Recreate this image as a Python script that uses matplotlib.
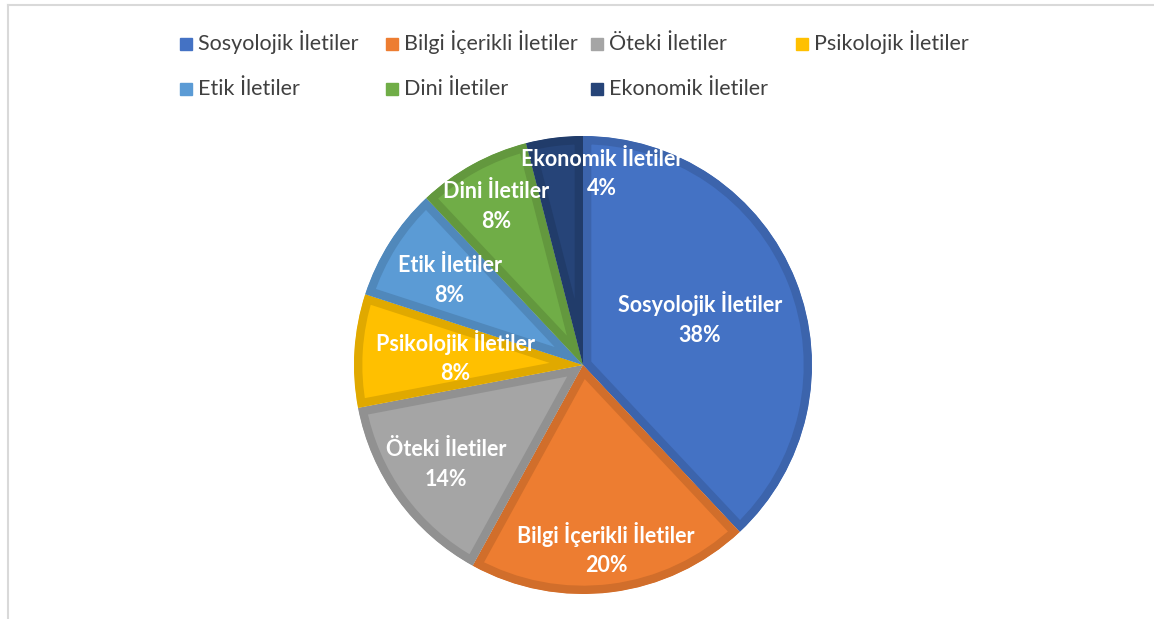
import matplotlib.pyplot as plt
from matplotlib.lines import Line2D
from matplotlib.patches import Rectangle
from matplotlib.colors import to_rgb
import numpy as np

categories = ["Sosyolojik İletiler", "Bilgi İçerikli İletiler", "Öteki İletiler",
              "Psikolojik İletiler", "Etik İletiler", "Dini İletiler", "Ekonomik İletiler"]
shares = [38, 20, 14, 8, 8, 8, 4]
colors = ["#4472C4", "#ED7D31", "#A5A5A5", "#FFC000", "#5B9BD5", "#70AD47", "#264478"]

# where each data label sits: distance along the bisector (fraction of radius),
# plus a sideways nudge for the crowded small slice
label_dist = [0.55, 0.81, 0.74, 0.56, 0.69, 0.79, 0.84]
label_dx = [0, 0, 0, 0, 0, 0, 0.19]

plt.rcParams["font.family"] = ["Lato", "DejaVu Sans"]


def darker(c, f=0.88):
    r, g, b = to_rgb(c)
    return (r * f, g * f, b * f)


fig = plt.figure(figsize=(11.54, 6.19), dpi=100)

# chart frame (top and left edges visible)
fig.add_artist(Line2D([8 / 1154, 1], [1 - 5 / 619, 1 - 5 / 619], color="#D9D9D9", lw=1.5))
fig.add_artist(Line2D([8 / 1154, 8 / 1154], [0, 1 - 5 / 619], color="#D9D9D9", lw=1.5))

ax = fig.add_axes([354 / 1154, 25 / 619, 458 / 1154, 458 / 619])
wedges, _ = ax.pie(shares, colors=colors, startangle=90, counterclock=False,
                   radius=1.0, wedgeprops={"linewidth": 0})
for w, c in zip(wedges, colors):
    # darker inner rim, stroke clipped to the slice itself
    w.set_edgecolor(darker(c))
    w.set_linewidth(12)
    w.set_joinstyle("round")
    w.set_clip_path(w)
    w.set_clip_on(True)

total = sum(shares)
for w, name, s, d, dx in zip(wedges, categories, shares, label_dist, label_dx):
    ang = np.deg2rad((w.theta1 + w.theta2) / 2)
    x, y = d * np.cos(ang) + dx, d * np.sin(ang)
    ax.text(x, y, f"{name}\n{round(100 * s / total)}%", ha="center", va="center",
            color="white", fontsize=15.5, fontweight="bold", linespacing=1.5)

ax.set_xlim(-1, 1)
ax.set_ylim(-1, 1)
ax.set_aspect("equal")
ax.axis("off")

# legend, two rows of four fixed-width columns
for i, (name, c) in enumerate(zip(categories, colors)):
    col, row = i % 4, i // 4
    x = (180 + col * 205.5) / 1154
    y = 1 - (44 + row * 45) / 619
    fig.add_artist(Rectangle((x, y - 6 / 619), 12 / 1154, 12 / 619, color=c,
                             transform=fig.transFigure))
    fig.text(x + 18 / 1154, y - 6 / 619, name, ha="left", va="baseline",
             fontsize=15.5, color="#404040")

plt.savefig("out.png", dpi=100)
